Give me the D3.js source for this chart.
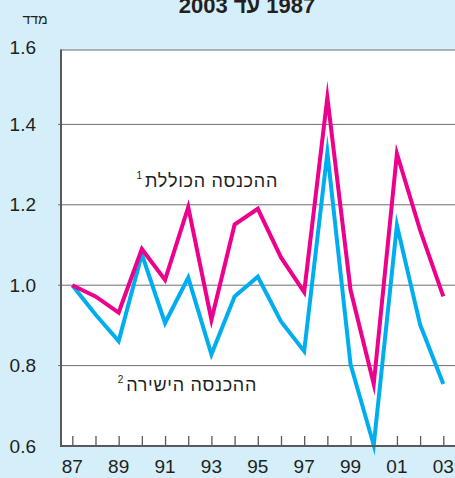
<!DOCTYPE html>
<html><head><meta charset="utf-8">
<script src="https://cdn.jsdelivr.net/npm/d3@7"></script>
<style>
html,body{margin:0;padding:0;background:#d4eefa;}
svg{display:block;}
text{font-family:"Liberation Sans",Arial,sans-serif;}
</style></head>
<body>
<svg id="c" width="455" height="478"></svg>
<script>
const years = [1987,1988,1989,1990,1991,1992,1993,1994,1995,1996,1997,1998,1999,2000,2001,2002,2003];
const xTickLabels = ["87","89","91","93","95","97","99","01","03"];
const yTicks = [0.6,0.8,1.0,1.2,1.4,1.6];
const totalIncome = [1.00,0.972,0.932,1.09,1.013,1.194,0.914,1.151,1.19,1.069,0.983,1.467,0.988,0.754,1.327,1.137,0.972];
const directIncome = [1.00,0.927,0.861,1.077,0.906,1.019,0.828,0.972,1.021,0.91,0.836,1.33,0.803,0.602,1.149,0.902,0.754];
// title shown visually left-to-right as: 2003 | עד | 1987
const titleParts = ["2003","עד","1987"];
const yAxisTitle = "מדד";
const totalLabel = "ההכנסה הכוללת";
const directLabel = "ההכנסה הישירה";

const svg = d3.select("#c");
const W = 455, H = 478;
const left = 61, right = 470, bottom = 446, frameTop = 50;

const x = d3.scaleLinear().domain([1987,2003]).range([72.3,443.3]);
const y = d3.scaleLinear().domain([0.6,1.6]).range([446,44]);

svg.append("rect").attr("width",W).attr("height",H).attr("fill","#d4eefa");
svg.append("rect").attr("x",left).attr("y",frameTop).attr("width",right-left).attr("height",bottom-frameTop).attr("fill","#fff");

// title (cut off at top as in the reference), laid out piece by piece
const tg = svg.append("g");
const parts = titleParts.map(p => tg.append("text").attr("y",13).attr("font-size",22)
  .attr("font-weight","bold").attr("fill","#231f20").text(p));
const gap = 6;
const widths = parts.map(p => p.node().getComputedTextLength());
const total = d3.sum(widths) + gap*(parts.length-1);
let cx = 247 - total/2;
parts.forEach((p,i)=>{ p.attr("x",cx); cx += widths[i] + gap; });

// y-axis title
svg.append("text").attr("x",35).attr("y",24).attr("text-anchor","middle")
  .attr("font-size",14).attr("fill","#231f20").text(yAxisTitle);

// gridlines
svg.append("g").selectAll("line").data(yTicks.filter(d=>d>0.6 && d<1.6)).join("line")
  .attr("x1",left-3).attr("x2",right).attr("y1",d=>y(d)).attr("y2",d=>y(d))
  .attr("stroke","#6d6e71").attr("stroke-width",1);

// top frame line
svg.append("line").attr("x1",left).attr("x2",right).attr("y1",frameTop).attr("y2",frameTop)
  .attr("stroke","#6d6e71").attr("stroke-width",1.2);

// y labels
svg.append("g").selectAll("text").data(yTicks).join("text")
  .attr("x",36).attr("y",d=> d===1.6 ? 47 : y(d)).attr("dy","0.35em").attr("text-anchor","end")
  .attr("font-size",19).attr("fill","#231f20").text(d=>d.toFixed(1));

// x-axis ticks
const xAxis = d3.axisBottom(x).tickValues(years).tickSize(-10).tickFormat("");
const gx = svg.append("g").attr("transform",`translate(0,${bottom})`).call(xAxis);
gx.select(".domain").remove();
gx.selectAll(".tick line").attr("stroke","#58595b").attr("stroke-width",1.3);

// x labels
svg.append("g").selectAll("text").data(xTickLabels).join("text")
  .attr("x",(d,i)=>x(years[i*2])).attr("y",473).attr("text-anchor","middle")
  .attr("font-size",19).attr("fill","#231f20").text(d=>d);

// lines
const line = d3.line().x((d,i)=>x(years[i])).y(d=>y(d));
svg.append("path").datum(directIncome).attr("d",line).attr("fill","none")
  .attr("stroke","#00aeef").attr("stroke-width",4).attr("stroke-linejoin","miter").attr("stroke-miterlimit",10);
svg.append("path").datum(totalIncome).attr("d",line).attr("fill","none")
  .attr("stroke","#ec008c").attr("stroke-width",4).attr("stroke-linejoin","miter").attr("stroke-miterlimit",10);

// axes lines
svg.append("line").attr("x1",left).attr("x2",left).attr("y1",frameTop-0.5).attr("y2",bottom+1)
  .attr("stroke","#58595b").attr("stroke-width",2);
svg.append("line").attr("x1",left).attr("x2",right).attr("y1",bottom).attr("y2",bottom)
  .attr("stroke","#58595b").attr("stroke-width",2);

// annotations
function label(txt, sup, xr, yb){
  const t = svg.append("text").attr("x",xr).attr("y",yb).attr("text-anchor","end")
    .attr("font-size",18).attr("letter-spacing",0.7).attr("fill","#231f20").text(txt);
  const w = t.node().getComputedTextLength();
  svg.append("text").attr("x",xr-w-3).attr("y",yb-8).attr("text-anchor","end")
    .attr("font-size",10).attr("fill","#231f20").text(sup);
}
label(totalLabel,"1",278,187);
label(directLabel,"2",257,391);
</script>
</body></html>
